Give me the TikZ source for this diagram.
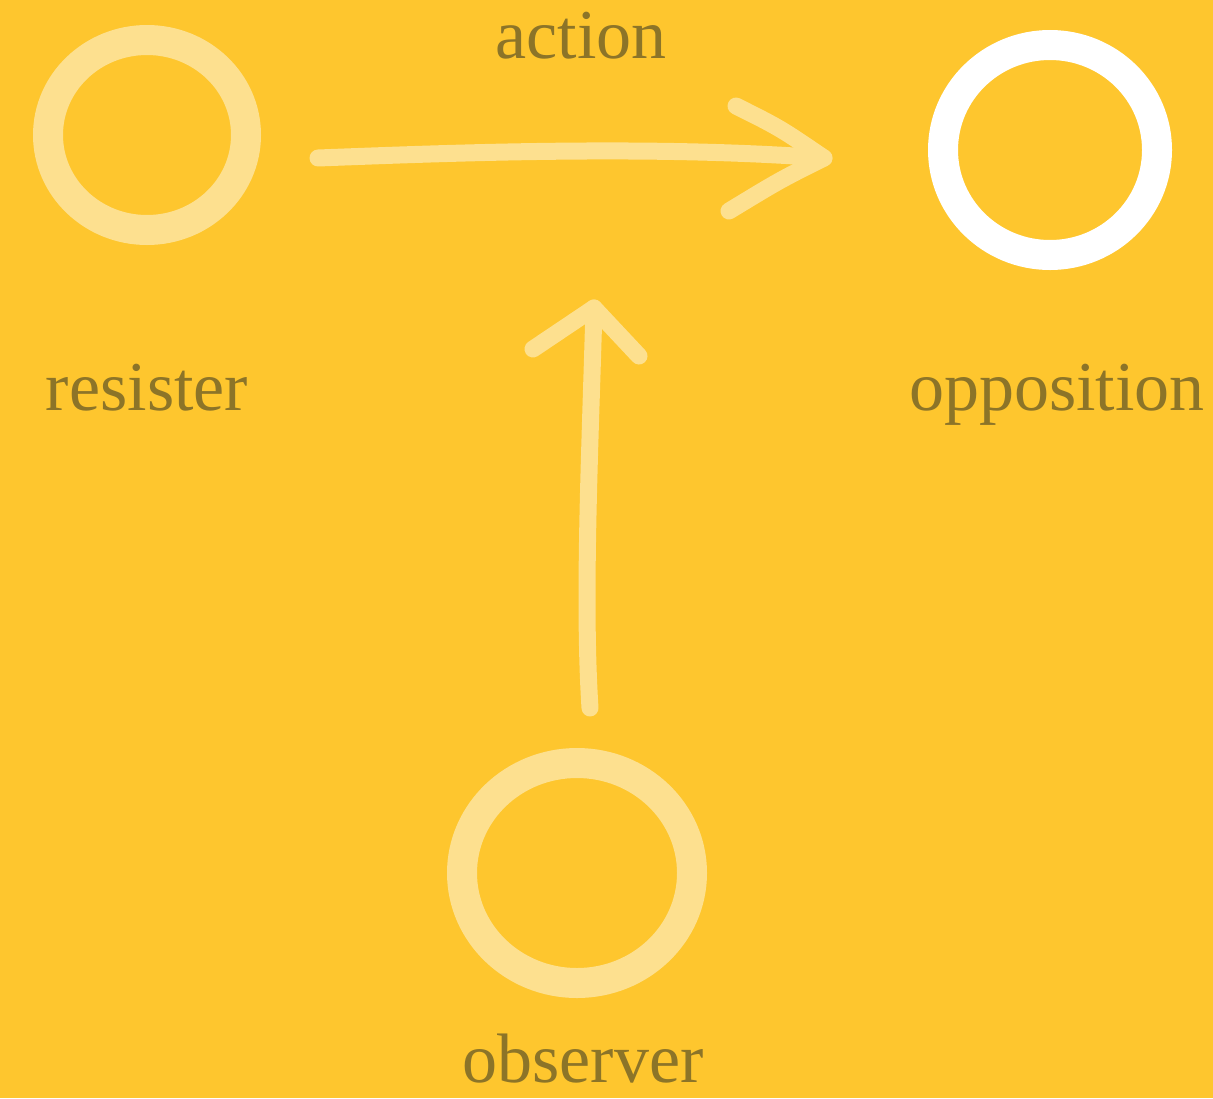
\documentclass[tikz,border=0pt]{standalone}
\usepackage{fontspec}
\setmainfont{Liberation Serif}
\usetikzlibrary{shapes.geometric}
\definecolor{bg}{HTML}{FEC62E}
\definecolor{lite}{HTML}{FDE08F}
\definecolor{txt}{HTML}{8C7428}
\tikzset{
  ring/.style={ellipse, draw=lite, line width=15pt, inner sep=0pt},
  lbl/.style={text=txt, font=\fontsize{35}{40}\selectfont, inner sep=0pt, anchor=base},
  stroke/.style={draw=lite, line width=8.5pt, line cap=round, line join=round},
}
\begin{document}
\begin{tikzpicture}[x=0.5pt,y=-0.5pt]
\fill[bg] (0,0) rectangle (1213,1098);
\useasboundingbox (0,0) rectangle (1213,1098);
\node[ring, minimum width=99pt, minimum height=95pt] (resister) at (147,135) {};
\node[ring, draw=white, minimum width=107pt, minimum height=105pt] (opposition) at (1050,150) {};
\node[ring, minimum width=115pt, minimum height=110pt] (observer) at (577,873) {};
\node[lbl] (lres) at (147,410) {resister};
\node[lbl] (lopp) at (1057,410) {opposition};
\node[lbl] (lobs) at (583,1082) {observer};
\node[lbl] (lact) at (581,58) {action};
\coordinate (a1) at (318,158);
\coordinate (a2) at (824,158);
\coordinate (h1) at (736,106);
\coordinate (h2) at (729,211);
\coordinate (v1) at (590,708);
\coordinate (v2) at (594,308);
\coordinate (g1) at (533,349);
\coordinate (g2) at (639,356);
\draw[stroke] (a1) .. controls (450,153) and (650,145) .. (a2);
\draw[stroke] (h1) .. controls (780,128) .. (a2) .. controls (780,180) .. (h2);
\draw[stroke] (v1) .. controls (583,600) and (590,450) .. (v2);
\draw[stroke] (g1) -- (v2) -- (g2);
\end{tikzpicture}
\end{document}
